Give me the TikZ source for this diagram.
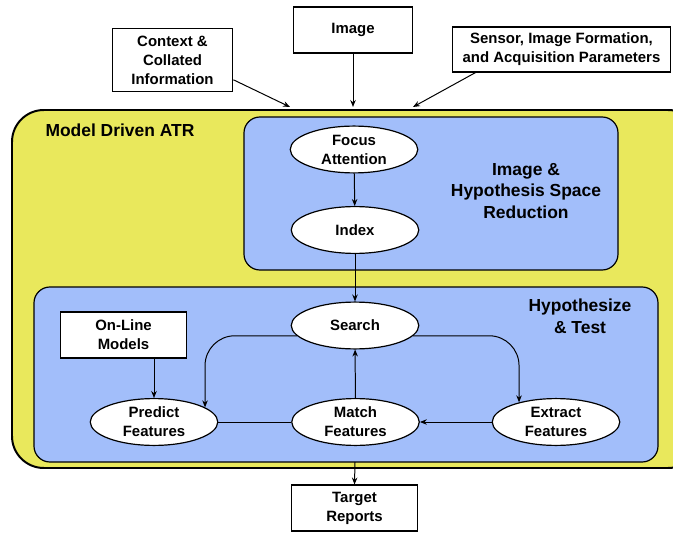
\documentclass[tikz,border=0pt]{standalone}
\usepackage{fontspec}
\setmainfont{Liberation Sans}
\usetikzlibrary{shapes.geometric,arrows.meta}
\definecolor{atryellow}{RGB}{233,232,92}
\definecolor{atrblue}{RGB}{162,190,250}
\tikzset{
  txt/.style={font=\bfseries\fontsize{15}{19}\selectfont, align=center},
  bigtxt/.style={font=\bfseries\fontsize{17.5}{22}\selectfont, align=center},
  inbox/.style={txt, draw=black, line width=1.2pt, fill=white, inner sep=0pt},
  oval/.style={txt, ellipse, draw=black, line width=1.2pt, fill=white, inner sep=0pt, minimum width=128, minimum height=47},
  arr/.style={-{Stealth[length=7pt,width=5.5pt]}, line width=1pt, black},
  lin/.style={line width=1pt, black},
}
\begin{document}
\begin{tikzpicture}[x=1bp,y=-1bp]
\useasboundingbox (0,0) rectangle (673,533);
% outer yellow container
\draw[line width=2pt, fill=atryellow, rounded corners=32] (12,110) rectangle (700,468);
\node[bigtxt, anchor=west] (title) at (42,130) {Model Driven ATR};
% upper blue box
\draw[line width=1.2pt, fill=atrblue, rounded corners=16] (244,117) rectangle (618,270);
\node[bigtxt] (lab1) at (526,191) {Image \&\\Hypothesis Space\\Reduction};
% lower blue box
\draw[line width=1.2pt, fill=atrblue, rounded corners=16] (34,287) rectangle (658,462);
\node[bigtxt] (lab2) at (580,316) {Hypothesize\\\& Test};

% input boxes
\node[inbox, minimum width=121, minimum height=64] (context) at (172.5,60) {Context \&\\Collated\\Information};
\node[inbox, minimum width=120, minimum height=46] (image) at (353,30) {Image};
\node[inbox, minimum width=219, minimum height=45] (sensor) at (561.5,49.5) {Sensor, Image Formation,\\and Acquisition Parameters};
\coordinate (inL) at (290,107);
\coordinate (inM) at (353,107);
\coordinate (inR) at (413,107);
\draw[arr] (context.-18) -- (inL);
\draw[arr] (image.south) -- (inM);
\draw[arr] (sensor.195) -- (inR);

% upper ellipses
\node[oval] (focus) at (354,149.5) {Focus\\Attention};
\node[oval] (index) at (355,230) {Index};
\draw[arr] (focus) -- (index);

% lower ellipses
\node[oval] (search) at (355,325.5) {Search};
\node[oval] (predict) at (154,422) {Predict\\Features};
\node[oval] (match) at (355.5,422) {Match\\Features};
\node[oval] (extract) at (556,422) {Extract\\Features};
\node[inbox, minimum width=127, minimum height=46] (online) at (123.5,335) {On-Line\\Models};

\draw[arr] (index) -- (search);
\draw[arr] (online.south -| predict.north) -- (predict.north);
\draw[arr] (match) -- (search);
\draw[arr] (extract) -- (match);
\draw[lin] (predict) -- (match);
\draw[arr, rounded corners=30] (search.190) -| (predict.16);
\draw[arr, rounded corners=30] (search.350) -| (extract.152);

% output
\node[inbox, minimum width=127, minimum height=46] (target) at (354.5,508) {Target\\Reports};
\coordinate (outS) at (355,462);
\draw[arr] (outS) -- (target.north);
\end{tikzpicture}
\end{document}
